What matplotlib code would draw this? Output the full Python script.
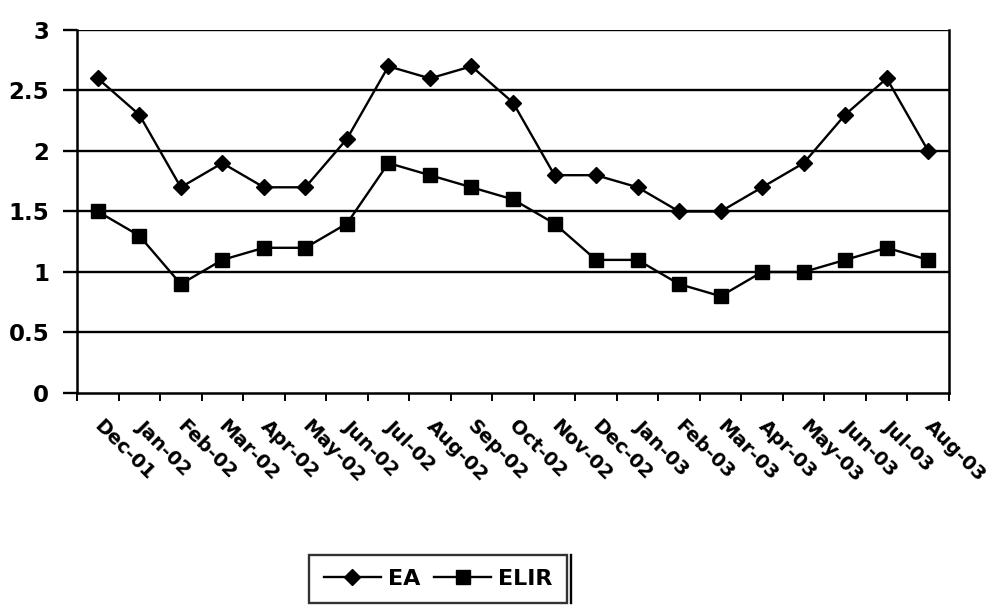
import matplotlib
matplotlib.use("Agg")
import matplotlib.pyplot as plt
from matplotlib.transforms import ScaledTranslation
from matplotlib.lines import Line2D

months = ["Dec-01", "Jan-02", "Feb-02", "Mar-02", "Apr-02", "May-02", "Jun-02",
          "Jul-02", "Aug-02", "Sep-02", "Oct-02", "Nov-02", "Dec-02", "Jan-03",
          "Feb-03", "Mar-03", "Apr-03", "May-03", "Jun-03", "Jul-03", "Aug-03"]
ea = [2.6, 2.3, 1.7, 1.9, 1.7, 1.7, 2.1, 2.7, 2.6, 2.7, 2.4, 1.8, 1.8, 1.7,
      1.5, 1.5, 1.7, 1.9, 2.3, 2.6, 2.0]
elir = [1.5, 1.3, 0.9, 1.1, 1.2, 1.2, 1.4, 1.9, 1.8, 1.7, 1.6, 1.4, 1.1, 1.1,
        0.9, 0.8, 1.0, 1.0, 1.1, 1.2, 1.1]
yticks = [0, 0.5, 1, 1.5, 2, 2.5, 3]

plt.rcParams["font.family"] = ["DejaVu Sans"]
plt.rcParams["font.weight"] = "bold"

fig = plt.figure(figsize=(10, 6.06), dpi=100)
ax = fig.add_axes([0.077, 0.3515, 0.872, 0.599])

x = list(range(len(months)))
ax.plot(x, ea, color="black", lw=1.7, marker="D", ms=8.5, label="EA", zorder=3)
ax.plot(x, elir, color="black", lw=1.7, marker="s", ms=10, label="ELIR", zorder=3)

ax.set_xlim(-0.5, len(months) - 0.5)
ax.set_ylim(0, 3)

# horizontal gridlines
for v in yticks[1:]:
    ax.axhline(v, color="black", lw=1.7, zorder=1)

ax.set_yticks(yticks)
ax.set_yticklabels([f"{v:g}" for v in yticks], fontsize=16.5, fontweight="bold")
ax.tick_params(axis="y", length=10, width=1.7, pad=10, direction="out")

# category labels at centres, tick marks at boundaries
ax.set_xticks(x)
ax.set_xticklabels(months, rotation=-45, ha="left", va="top",
                   rotation_mode="anchor", fontsize=14, fontweight="bold")
ax.tick_params(axis="x", which="major", length=0, pad=17)
ax.set_xticks([i - 0.5 for i in range(len(months) + 1)], minor=True)
ax.tick_params(axis="x", which="minor", length=6, width=1.4, direction="out")
shift = ScaledTranslation(6 / 100, 0, fig.dpi_scale_trans)
for lab in ax.get_xticklabels():
    lab.set_transform(lab.get_transform() + shift)

for side in ["left", "bottom", "right"]:
    ax.spines[side].set_linewidth(1.8)
    ax.spines[side].set_color("black")
ax.spines["top"].set_visible(False)

handles = [Line2D([], [], color="black", lw=1.7, marker="D", ms=8.5),
           Line2D([], [], color="black", lw=1.7, marker="s", ms=10)]
leg = fig.legend(handles, ["EA", "ELIR"], ncol=2, loc="center",
                 bbox_to_anchor=(0.438, 0.0445), frameon=True, fancybox=False,
                 prop={"size": 16, "weight": "bold"}, handlelength=2.6,
                 handletextpad=0.3, columnspacing=0.6, borderpad=0.65,
                 borderaxespad=0)
leg.get_frame().set_edgecolor("black")
leg.get_frame().set_linewidth(1.7)

fig.canvas.draw()
bb = leg.get_window_extent().transformed(fig.transFigure.inverted())
fig.add_artist(Line2D([bb.x1 + 0.004, bb.x1 + 0.004], [bb.y0, bb.y1],
                      color="black", lw=1.7, transform=fig.transFigure))

fig.savefig("out.png", dpi=100, facecolor="white")
